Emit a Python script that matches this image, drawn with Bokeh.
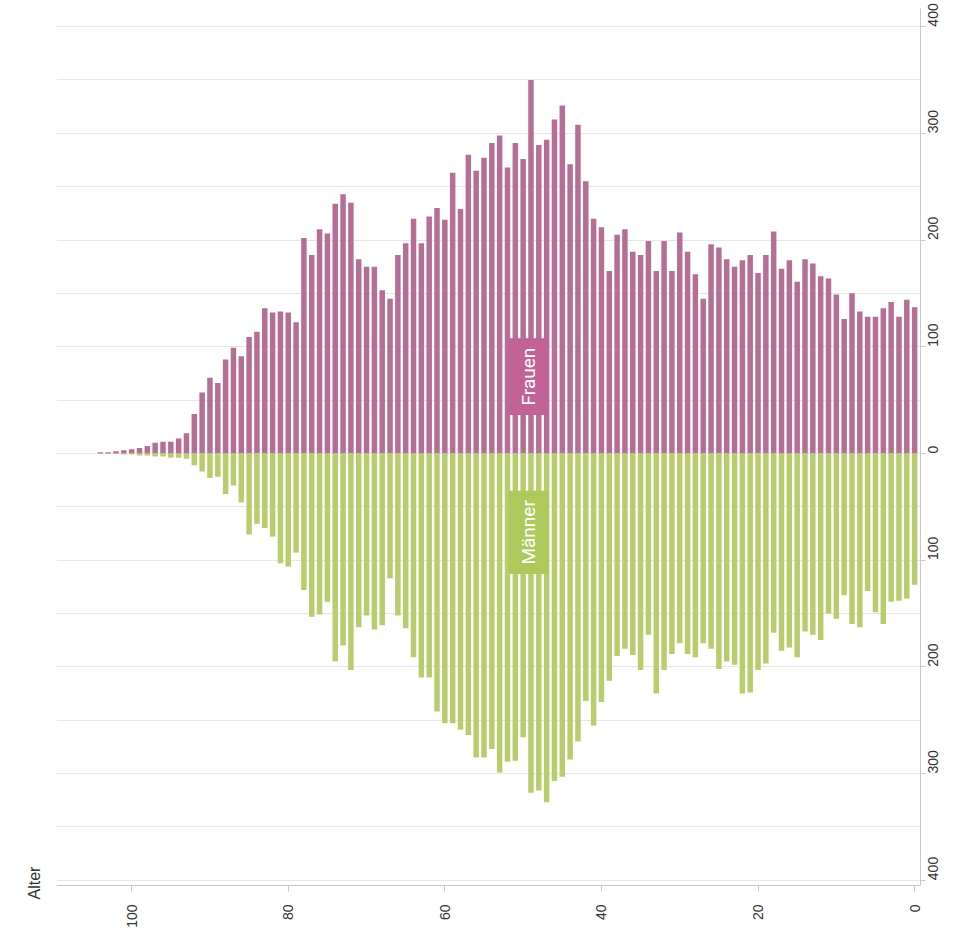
import math
from bokeh.plotting import figure
from bokeh.models import Range1d, FixedTicker, ColumnDataSource, Title
from bokeh.embed import file_html
from bokeh.resources import INLINE
from bokeh.core.properties import value

# Alter 0 .. 104
ages = list(range(0, 105))
frauen = [137, 144, 128, 142, 136, 128, 128, 133, 150, 126,
          149, 164, 166, 178, 182, 161, 181, 173, 208, 186,
          169, 186, 181, 175, 182, 193, 196, 145, 168, 189,
          207, 171, 199, 171, 199, 186, 189, 210, 205, 171,
          212, 220, 255, 308, 271, 326, 313, 294, 289, 350,
          276, 291, 268, 298, 291, 277, 265, 280, 229, 263,
          219, 230, 222, 197, 220, 197, 186, 145, 153, 175,
          175, 182, 235, 243, 234, 206, 210, 186, 202, 123,
          132, 133, 132, 136, 114, 109, 91, 99, 88, 66,
          71, 57, 37, 19, 14, 11, 11, 10, 7, 5,
          4, 3, 2, 1, 1]
maenner = [123, 136, 138, 139, 160, 149, 129, 163, 160, 133,
           155, 150, 175, 170, 167, 191, 182, 185, 168, 197,
           203, 224, 225, 198, 195, 202, 183, 178, 191, 188,
           178, 188, 203, 225, 170, 203, 189, 183, 190, 213,
           233, 255, 232, 270, 287, 303, 307, 327, 316, 318,
           266, 288, 289, 299, 277, 285, 285, 264, 259, 253,
           253, 242, 210, 210, 191, 164, 152, 117, 161, 165,
           152, 163, 203, 180, 195, 139, 151, 153, 128, 93,
           106, 103, 78, 70, 66, 76, 46, 30, 38, 22,
           23, 17, 11, 5, 4, 4, 3, 3, 2, 2,
           1, 1, 0, 0, 0]

x_ticks = [0, 20, 40, 60, 80, 100]
y_ticks = [-400, -300, -200, -100, 0, 100, 200, 300, 400]
y_grid = list(range(-400, 401, 50))
y_tick_labels = {t: str(abs(t)) for t in y_ticks}

PINK = "#b56e96"
GREEN = "#b9cc6e"
PINK_BOX = "#c26297"
GREEN_BOX = "#adc85b"

src = ColumnDataSource(dict(
    age=ages,
    frauen=frauen,
    maenner_neg=[-v for v in maenner],
))

p = figure(frame_width=864, frame_height=877,
           x_range=Range1d(109.6, -0.75), y_range=Range1d(-405, 417),
           output_backend="svg", toolbar_location=None,
           y_axis_location="right",
           min_border_left=56, min_border_top=8, min_border_right=8, min_border_bottom=0)
p.outline_line_color = None
p.background_fill_color = "white"

p.xgrid.visible = False
p.ygrid.ticker = FixedTicker(ticks=y_grid)
p.ygrid.grid_line_color = "#e6e6e6"
p.ygrid.grid_line_width = 1

p.vbar(x="age", top="frauen", bottom=0, width=0.7, source=src,
       fill_color=PINK, line_color=None)
p.vbar(x="age", top=0, bottom="maenner_neg", width=0.7, source=src,
       fill_color=GREEN, line_color=None)

# Series labels
p.rect(x=[49.3], y=[72], width=5.1, height=72, fill_color=PINK_BOX, line_color=None)
p.text(x=[49.3], y=[72], text=["Frauen"], angle=math.pi / 2,
       text_align="center", text_baseline="middle", text_color="white",
       text_font=value("Roboto"), text_font_size="19px")
p.rect(x=[49.3], y=[-74], width=5.1, height=78, fill_color=GREEN_BOX, line_color=None)
p.text(x=[49.3], y=[-74], text=["Männer"], angle=math.pi / 2,
       text_align="center", text_baseline="middle", text_color="white",
       text_font=value("Roboto"), text_font_size="19px")

# Axes
xa = p.xaxis[0]
xa.ticker = FixedTicker(ticks=x_ticks)
xa.major_label_orientation = math.pi / 2
xa.axis_line_color = "#c8c8c8"
xa.major_tick_line_color = "#c8c8c8"
xa.major_tick_out = 6
xa.major_tick_in = 0
xa.minor_tick_line_color = None
xa.major_label_text_font = "Liberation Sans"
xa.major_label_text_font_size = "14px"
xa.major_label_text_color = "#333333"
xa.major_label_standoff = 13

ya = p.yaxis[0]
ya.ticker = FixedTicker(ticks=y_ticks)
ya.major_label_overrides = y_tick_labels
ya.major_label_orientation = math.pi / 2
ya.axis_line_color = "#c8c8c8"
ya.major_tick_line_color = "#c8c8c8"
ya.major_tick_out = 5
ya.major_tick_in = 0
ya.minor_tick_line_color = None
ya.major_label_text_font = "Liberation Sans"
ya.major_label_text_font_size = "14px"
ya.major_label_text_color = "#333333"
ya.major_label_standoff = 8

p.add_layout(Title(text="Alter", align="left", text_font="Liberation Sans",
                   text_font_size="16px", text_font_style="normal",
                   text_color="#333333", standoff=28, offset=-14), "left")

open("out.html", "w").write(file_html(p, INLINE))
